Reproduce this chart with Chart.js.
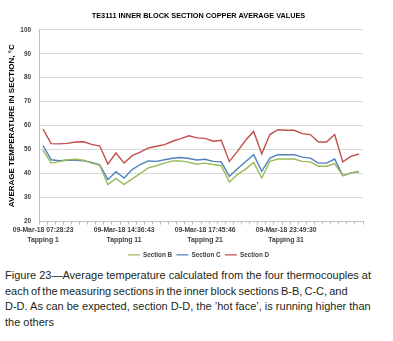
<!DOCTYPE html>
<html>
<head>
<meta charset="utf-8">
<script src="https://cdn.jsdelivr.net/npm/chart.js@4"></script>
<style>
  html, body { margin: 0; padding: 0; background: #fff; }
  body { width: 393px; height: 341px; position: relative; overflow: hidden; }
  #wrap { position: absolute; left: 0; top: 0; width: 393px; height: 268px; }
  #caption {
    position: absolute; left: 5px; top: 268.3px;
    font-family: "Liberation Sans", Arial, sans-serif;
    font-size: 11px; line-height: 15.4px; color: #231f20;
    white-space: nowrap;
  }
  #caption .tight { word-spacing: -0.9px; }
</style>
</head>
<body>
<div id="wrap"><canvas id="copperChart" width="393" height="268"></canvas></div>
<div id="caption">
  Figure 23—Average temperature calculated from the four thermocouples at<br>
  <span class="tight">each of the measuring sections in the inner block sections B-B, C-C, and</span><br>
  D-D. As can be expected, section D-D, the ’hot face’, is running higher than<br>
  the others
</div>
<script>
// tapping numbers along the x axis
const tappings = [1, 2, 3, 4, 5, 6, 7, 8, 9, 10, 11, 12, 13, 14, 15, 16, 17, 18, 19, 20,
  21, 22, 23, 24, 25, 26, 27, 28, 29, 30, 31, 32, 33, 34, 35, 36, 37, 38, 39, 40];

// only every 10th tapping gets a label (date/time + tapping)
const tickLabels = {
  1: ['09-Mar-18 07:28:23', 'Tapping 1'],
  11: ['09-Mar-18 14:36:43', 'Tapping 11'],
  21: ['09-Mar-18 17:45:46', 'Tapping 21'],
  31: ['09-Mar-18 23:49:30', 'Tapping 31']
};

const sectionB = [49.7, 44.4, 45.0, 45.8, 46.0, 45.6, 44.4, 43.5, 35.4, 38.0,
  35.4, 37.8, 40.0, 42.4, 43.3, 44.4, 45.3, 45.3, 44.7, 43.9,
  44.4, 43.8, 43.3, 36.5, 39.6, 41.9, 44.7, 38.2, 45.1, 46.1,
  46.1, 46.1, 45.1, 44.9, 43.1, 43.1, 44.2, 39.2, 40.3, 40.8];

const sectionC = [51.7, 45.8, 45.4, 45.6, 45.6, 45.4, 44.7, 43.7, 37.5, 40.8,
  38.2, 41.7, 43.8, 45.3, 45.1, 45.8, 46.4, 46.7, 46.3, 45.7,
  46.0, 45.1, 44.9, 38.9, 42.0, 45.0, 47.9, 41.0, 46.5, 47.9,
  47.9, 47.9, 46.9, 46.5, 44.4, 44.4, 46.1, 39.2, 40.3, 40.8];

const sectionD = [58.6, 52.5, 52.4, 52.6, 53.2, 53.3, 52.2, 51.5, 44.0, 48.6,
  44.4, 47.5, 49.0, 50.7, 51.4, 52.1, 53.5, 54.6, 55.8, 54.9,
  54.7, 53.5, 53.9, 45.1, 49.3, 53.9, 57.6, 48.3, 56.3, 58.3,
  58.1, 58.1, 56.7, 56.3, 53.2, 53.2, 56.3, 44.9, 47.2, 48.2];

const FONT = '"Liberation Sans", Arial, sans-serif';

function line(label, data, color) {
  return {
    label: label,
    data: data,
    borderColor: color,
    backgroundColor: color,
    borderWidth: 1.4,
    pointRadius: 0,
    pointStyle: 'line',
    tension: 0
  };
}

const ctx = document.getElementById('copperChart').getContext('2d');
new Chart(ctx, {
  type: 'line',
  data: {
    labels: tappings,
    datasets: [
      line('Section B', sectionB, '#9bbb59'),
      line('Section C', sectionC, '#4f81bd'),
      line('Section D', sectionD, '#c0504d')
    ]
  },
  options: {
    responsive: false,
    devicePixelRatio: 1,
    animation: false,
    layout: { padding: { left: 4, right: 0, top: 0, bottom: 0 } },
    plugins: {
      title: {
        display: true,
        text: 'TE3111 INNER BLOCK SECTION COPPER AVERAGE VALUES',
        color: '#000',
        font: { family: FONT, size: 7.3, weight: 'bold' },
        padding: { top: 12, bottom: 9 }
      },
      legend: {
        position: 'bottom',
        labels: {
          color: '#404040',
          font: { family: FONT, size: 6.3, weight: 'bold' },
          usePointStyle: true,
          pointStyleWidth: 12,
          boxHeight: 6,
          padding: 4.3
        }
      },
      tooltip: { enabled: false }
    },
    scales: {
      x: {
        offset: true,
        grid: {
          display: true,
          offset: true,
          drawOnChartArea: false,
          drawTicks: true,
          tickLength: 3,
          color: '#bfbfbf'
        },
        border: { color: '#bfbfbf' },
        ticks: {
          autoSkip: false,
          maxRotation: 0,
          padding: 1,
          color: '#404040',
          font: { family: FONT, size: 6.8, weight: 'bold', lineHeight: 1.47 },
          callback: function (value, index) {
            return tickLabels[tappings[index]] || '';
          }
        },
        afterFit: function (scale) { scale.height = 25.8; }
      },
      y: {
        min: 20,
        max: 100,
        ticks: {
          stepSize: 10,
          padding: 8,
          color: '#404040',
          font: { family: FONT, size: 6.4, weight: 'bold' }
        },
        grid: { color: '#d9d9d9', drawTicks: false },
        border: { color: '#bfbfbf' },
        title: {
          display: true,
          text: 'AVERAGE TEMPERATURE IN SECTION, °C',
          color: '#000',
          font: { family: FONT, size: 8, weight: 'bold' },
          padding: { top: 3, bottom: 0 }
        },
        afterFit: function (scale) { scale.width = 35; }
      },
      // empty right-hand margin so title and legend stay centred on the page
      yRight: {
        position: 'right',
        display: true,
        ticks: { display: false },
        grid: { display: false },
        border: { display: false },
        afterFit: function (scale) { scale.width = 30; }
      }
    }
  }
});
</script>
</body>
</html>
